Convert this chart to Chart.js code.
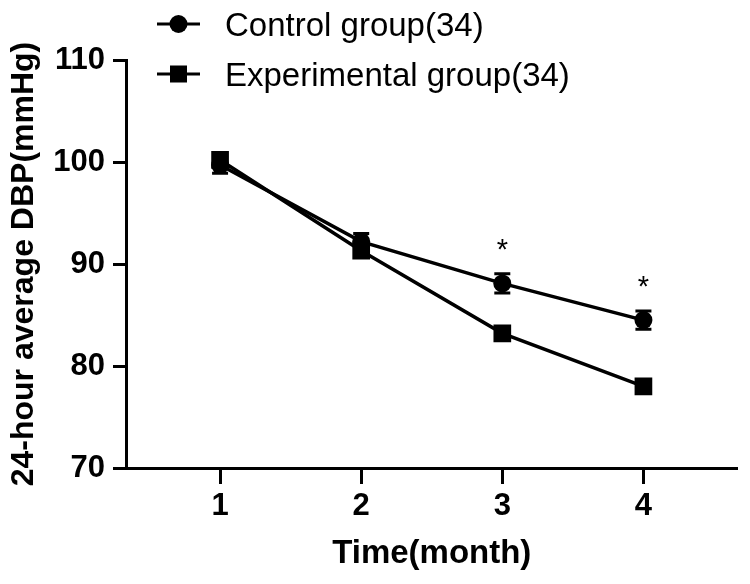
<!DOCTYPE html>
<html>
<head>
<meta charset="utf-8">
<script src="https://cdn.jsdelivr.net/npm/chart.js@4/dist/chart.umd.min.js"></script>
<style>
  html, body { margin: 0; padding: 0; background: #fff; }
  #wrap { width: 750px; height: 584px; position: relative; }
</style>
</head>
<body>
<div id="wrap"><canvas id="c" width="750" height="584"></canvas></div>
<script>
// ---- data ----
const months = [1, 2, 3, 4];
const monthLabels = ['1', '2', '3', '4'];
const controlMean = [99.7, 92.2, 88.1, 84.5];
const controlErr = [0.8, 0.8, 0.95, 0.9];
const experimentalMean = [100.2, 91.3, 83.2, 78.0];
const experimentalErr = [0.7, 0.6, 0.6, 0.5];
const significance = ['', '', '*', '*'];
const seriesNames = ['Control group(34)', 'Experimental group(34)'];
const yTicks = [70, 80, 90, 100, 110];

const FONT = "'Liberation Sans', Arial, Helvetica, sans-serif";

const errorPlugin = {
  id: 'errorBars',
  beforeDatasetsDraw(chart) {
    const { ctx, scales: { x, y } } = chart;
    ctx.save();
    ctx.strokeStyle = '#000';
    ctx.lineWidth = 3;
    [[controlMean, controlErr], [experimentalMean, experimentalErr]].forEach(([m, e]) => {
      m.forEach((v, i) => {
        const px = x.getPixelForValue(months[i]);
        const top = y.getPixelForValue(v + e[i]);
        const bot = y.getPixelForValue(v - e[i]);
        ctx.beginPath();
        ctx.moveTo(px, top); ctx.lineTo(px, bot);
        ctx.moveTo(px - 8, top); ctx.lineTo(px + 8, top);
        ctx.moveTo(px - 8, bot); ctx.lineTo(px + 8, bot);
        ctx.stroke();
      });
    });
    ctx.restore();
  },
  afterDatasetsDraw(chart) {
    const { ctx, scales: { x, y } } = chart;
    ctx.save();
    ctx.fillStyle = '#000';
    ctx.font = '29px ' + FONT;
    ctx.textAlign = 'center';
    ctx.textBaseline = 'middle';
    significance.forEach((s, i) => {
      if (!s) return;
      const px = x.getPixelForValue(months[i]);
      const top = y.getPixelForValue(controlMean[i] + controlErr[i]);
      ctx.fillText(s, px, top - 23);
    });
    ctx.restore();
  },
  afterDraw(chart) {
    // legend
    const { ctx } = chart;
    ctx.save();
    ctx.strokeStyle = '#000';
    ctx.fillStyle = '#000';
    ctx.lineWidth = 3;
    const rows = [24, 74];
    const styles = ['circle', 'rect'];
    rows.forEach((ry, i) => {
      ctx.beginPath();
      ctx.moveTo(157, ry); ctx.lineTo(200, ry);
      ctx.stroke();
      if (styles[i] === 'circle') {
        ctx.beginPath(); ctx.arc(178.5, ry, 9, 0, Math.PI * 2); ctx.fill();
      } else {
        ctx.fillRect(170, ry - 8.5, 17, 17);
      }
      ctx.font = '33px ' + FONT;
      ctx.textAlign = 'left';
      ctx.textBaseline = 'alphabetic';
      ctx.fillText(seriesNames[i], 225, ry + 11.5);
    });
    ctx.restore();
  }
};

new Chart(document.getElementById('c'), {
  type: 'line',
  data: {
    datasets: [
      {
        label: seriesNames[0],
        data: months.map((m, i) => ({ x: m, y: controlMean[i] })),
        borderColor: '#000',
        backgroundColor: '#000',
        borderWidth: 3.5,
        pointStyle: 'circle',
        pointRadius: 9,
        pointBorderWidth: 0,
        pointBackgroundColor: '#000',
        order: 1
      },
      {
        label: seriesNames[1],
        data: months.map((m, i) => ({ x: m, y: experimentalMean[i] })),
        borderColor: '#000',
        backgroundColor: '#000',
        borderWidth: 3.5,
        pointStyle: 'rect',
        pointRadius: 12.5,
        pointBorderWidth: 0,
        pointBackgroundColor: '#000',
        order: 0
      }
    ]
  },
  options: {
    responsive: false,
    animation: false,
    devicePixelRatio: 1,
    layout: { padding: { top: 60, right: 8, left: 0, bottom: 0 } },
    plugins: { legend: { display: false }, tooltip: { enabled: false } },
    scales: {
      x: {
        type: 'linear',
        min: 1 / 3,
        max: 14 / 3,
        afterBuildTicks(scale) { scale.ticks = months.map(v => ({ value: v })); },
        afterFit(scale) { scale.height = 116; },
        ticks: {
          color: '#000',
          font: { family: FONT, size: 31, weight: 'bold' },
          padding: 4,
          maxRotation: 0,
          callback(v) { const i = months.indexOf(v); return i >= 0 ? monthLabels[i] : ''; }
        },
        grid: { drawOnChartArea: false, drawTicks: true, tickLength: 16, tickWidth: 3, color: '#000' },
        border: { display: true, color: '#000', width: 3 },
        title: {
          display: true,
          text: 'Time(month)',
          color: '#000',
          font: { family: FONT, size: 33, weight: 'bold' },
          padding: { top: 0, bottom: 10 }
        }
      },
      y: {
        type: 'linear',
        min: 70,
        max: 110,
        afterBuildTicks(scale) { scale.ticks = yTicks.map(v => ({ value: v })); },
        afterFit(scale) { scale.width = 126; },
        ticks: {
          color: '#000',
          font: { family: FONT, size: 31, weight: 'bold' },
          padding: 8
        },
        grid: { drawOnChartArea: false, drawTicks: true, tickLength: 13, tickWidth: 3, color: '#000' },
        border: { display: true, color: '#000', width: 3 },
        title: {
          display: true,
          text: '24-hour average DBP(mmHg)',
          color: '#000',
          font: { family: FONT, size: 32, weight: 'bold' },
          padding: { top: 5, bottom: 0 }
        }
      }
    }
  },
  plugins: [errorPlugin]
});
</script>
</body>
</html>
